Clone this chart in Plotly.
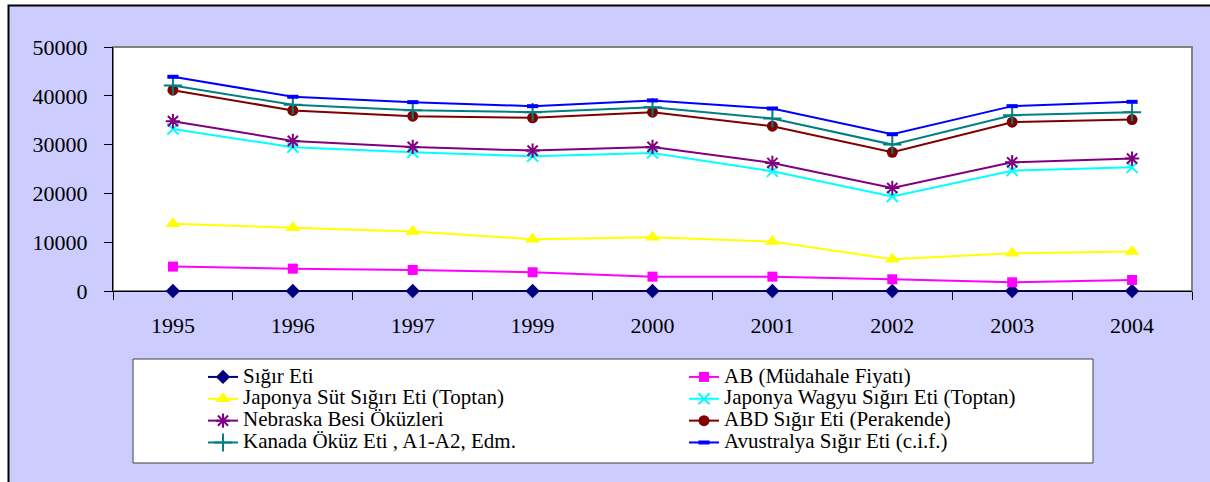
import plotly.graph_objects as go

# ---------------- data ----------------
years = ["1995", "1996", "1997", "1999", "2000", "2001", "2002", "2003", "2004"]

series_names = [
    "Sığır Eti",
    "AB (Müdahale Fiyatı)",
    "Japonya Süt Sığırı Eti (Toptan)",
    "Japonya Wagyu Sığırı Eti (Toptan)",
    "Nebraska Besi Öküzleri",
    "ABD Sığır Eti (Perakende)",
    "Kanada Öküz Eti , A1-A2, Edm.",
    "Avustralya Sığır Eti (c.i.f.)",
]

sigir_eti = [0, 0, 0, 0, 0, 0, 0, 0, 0]
ab_mudahale = [5000, 4580, 4320, 3840, 2940, 2940, 2400, 1780, 2260]
japonya_sut = [13770, 12950, 12190, 10620, 11030, 10140, 6510, 7740, 8080]
japonya_wagyu = [33200, 29450, 28430, 27600, 28290, 24520, 19380, 24660, 25340]
nebraska = [34800, 30760, 29530, 28770, 29530, 26240, 21100, 26370, 27130]
abd = [41150, 37000, 35820, 35490, 36640, 33770, 28430, 34590, 35140]
kanada = [42100, 38150, 37050, 36640, 37670, 35350, 30000, 36030, 36640]
avustralya = [43900, 39800, 38700, 37880, 39050, 37400, 32130, 37880, 38770]

series_values = [sigir_eti, ab_mudahale, japonya_sut, japonya_wagyu,
                 nebraska, abd, kanada, avustralya]

y_ticks = [0, 10000, 20000, 30000, 40000, 50000]
y_tick_labels = ["0", "10000", "20000", "30000", "40000", "50000"]

# ---------------- styles ----------------
styles = [
    dict(color="#000080", symbol="diamond", size=11, mline=0),
    dict(color="#FF00FF", symbol="square", size=10, mline=0),
    dict(color="#FFFF00", symbol="triangle-up", size=13, mline=0),
    dict(color="#00FFFF", symbol="x-thin-open", size=11, mline=2),
    dict(color="#800080", symbol="asterisk-open", size=12, mline=2),
    dict(color="#800000", symbol="circle", size=11, mline=0),
    dict(color="#008080", symbol="cross-thin-open", size=13, mline=2),
    dict(color="#0000FF", symbol="line-ew-open", size=8, mline=4),
]

W, H = 1210, 482
L, R, T, B = 113, 1192, 47, 291  # plot area in pixels


def px_x(p):
    return (p - L) / (R - L)


def px_y(p):
    return (B - p) / (B - T)


fig = go.Figure()
for name, vals, st in zip(series_names, series_values, styles):
    fig.add_trace(go.Scatter(
        x=years, y=vals, mode="lines+markers",
        name='<span style="font-size:21px">' + name + "</span>",
        line=dict(color=st["color"], width=2),
        marker=dict(color=st["color"], symbol=st["symbol"], size=st["size"],
                    line=dict(color=st["color"], width=st["mline"])),
        cliponaxis=False,
    ))

font_family = "Liberation Serif, Times New Roman, serif"

fig.update_layout(
    width=W, height=H,
    margin=dict(l=L, r=W - R, t=T, b=H - B, pad=0),
    paper_bgcolor="white",
    plot_bgcolor="rgba(0,0,0,0)",
    font=dict(family=font_family, color="black", size=22),
    showlegend=True,
    legend=dict(
        orientation="h",
        x=px_x(203), xanchor="left",
        y=px_y(361), yanchor="top",
        bgcolor="rgba(0,0,0,0)",
        borderwidth=0,
        font=dict(family=font_family, size=14.5, color="black"),
        entrywidth=436,
        entrywidthmode="pixels",
        traceorder="normal",
    ),
    shapes=[
        # outer chart frame
        dict(type="rect", xref="paper", yref="paper",
             x0=px_x(8.5), x1=px_x(W + 20), y0=px_y(H + 20), y1=px_y(5.5),
             fillcolor="#CCCCFF", line=dict(color="black", width=2), layer="below"),
        # plot area
        dict(type="rect", xref="paper", yref="paper",
             x0=0, x1=1, y0=0, y1=1,
             fillcolor="white", line=dict(color="#808080", width=2), layer="below"),
        # legend box
        dict(type="rect", xref="paper", yref="paper",
             x0=px_x(133), x1=px_x(1093), y0=px_y(463), y1=px_y(359),
             fillcolor="white", line=dict(color="#404040", width=1), layer="below"),
    ],
    xaxis=dict(
        type="category", range=[-0.5, 8.5],
        showline=True, linecolor="black", linewidth=1,
        ticks="outside", tickson="boundaries", ticklen=8, tickcolor="black",
        showgrid=False, zeroline=False,
        tickfont=dict(family=font_family, size=22, color="black"),
        ticklabelstandoff=15,
        layer="below traces",
    ),
    yaxis=dict(
        range=[0, 50000], tickvals=y_ticks, ticktext=y_tick_labels,
        showline=True, linecolor="black", linewidth=1,
        ticks="outside", ticklen=8, tickcolor="black",
        showgrid=False, zeroline=False,
        tickfont=dict(family=font_family, size=22, color="black"),
        ticklabelstandoff=12,
    ),
)

fig.write_html(
    "out.html",
    config={"displayModeBar": False},
    post_script="document.body.style.margin='0';document.body.style.overflow='hidden';",
)
